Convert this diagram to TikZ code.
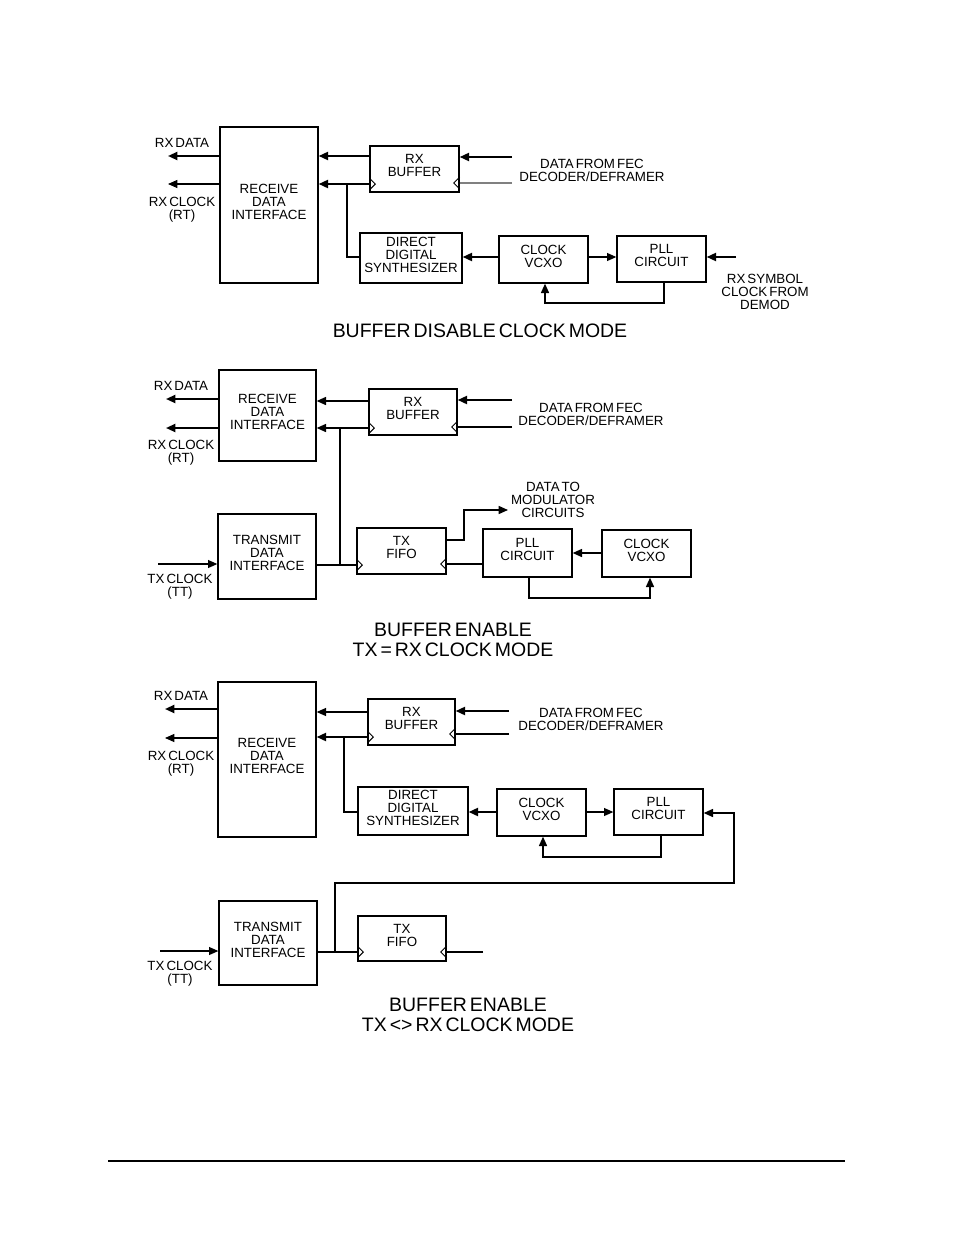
\documentclass[tikz,border=0pt]{standalone}
\usepackage{fontspec}
\setmainfont{Liberation Sans}[WordSpace=0.55]
\usetikzlibrary{fit,arrows.meta}
\newcommand\lblfont{\fontsize{10}{9.75}\selectfont}
\newcommand\ttlfont{\fontsize{14.6}{14.8}\selectfont}
\begin{document}
\begin{tikzpicture}[x=0.75pt,y=-0.75pt,
  box/.style={draw, line width=1pt, inner sep=0pt},
  bt/.style={align=center, font=\lblfont, inner sep=0pt, yshift=2.5pt},
  lbl/.style={align=center, font=\lblfont, inner sep=0pt},
  ttl/.style={align=center, font=\ttlfont, inner sep=0pt},
  thk/.style={line width=1.5pt},
  med/.style={line width=1.1pt},
  thn/.style={line width=0.8pt},
  arr/.style={-{Triangle[length=7pt,width=6pt]}},
  ck/.style={line width=0.7pt}]
\useasboundingbox (0,0) rectangle (954,1235);

% ================= TOP: BUFFER DISABLE =================
\node[box, fit={(220,127) (318,283)}, label={[bt]center:{RECEIVE\\DATA\\INTERFACE}}] (rdiA) {};
\node[box, fit={(370,146) (459,192)}, label={[bt]center:{RX\\BUFFER}}] (rxbA) {};
\node[box, fit={(360,233) (462,283)}, label={[bt]center:{DIRECT\\DIGITAL\\SYNTHESIZER}}] (ddsA) {};
\node[box, fit={(499,236) (588,283)}, label={[bt]center:{CLOCK\\VCXO}}] (vcxoA) {};
\node[box, fit={(617,236) (706,282)}, label={[bt]center:{PLL\\CIRCUIT}}] (pllA) {};

\node[lbl] (rxdA) at (182,143) {RX DATA};
\node[lbl] (rxcA) at (182,210) {RX CLOCK\\(RT)};
\node[lbl] (fecA) at (592,170) {DATA FROM FEC\\DECODER/DEFRAMER};
\node[lbl] (symA) at (765,292) {RX SYMBOL\\CLOCK FROM\\DEMOD};
\node[ttl] (tA) at (480,331) {BUFFER DISABLE CLOCK MODE};

\coordinate (rxdAe) at (168,156);
\coordinate (rxcAe) at (168,184);
\coordinate (fecAd) at (512,157);
\coordinate (fecAc) at (512,183);
\coordinate (jA) at (347,184);
\coordinate (symAs) at (736,257);

\draw[thk,arr] (rdiA.west |- rxdAe) -- (rxdAe);
\draw[thn,arr] (rdiA.west |- rxcAe) -- (rxcAe);
\draw[thk,arr] (rxbA.west |- 0,156) -- (rdiA.east |- 0,156);
\draw[thk,arr] (rxbA.west |- 0,184) -- (rdiA.east |- 0,184);
\draw[med] (jA) |- (ddsA.west |- 0,257);
\draw[thk,arr] (fecAd) -- (rxbA.east |- fecAd);
\draw[thn,gray] (fecAc) -- (rxbA.east |- fecAc);
\draw[ck] (rxbA.west |- 0,184) ++(0,-6) -- ++(6,6) -- ++(-6,6);
\draw[ck] (rxbA.east |- 0,183) ++(0,-6) -- ++(-6,6) -- ++(6,6);
\draw[thk,arr] (vcxoA.west |- 0,257) -- (ddsA.east |- 0,257);
\draw[thn,arr] (vcxoA.east |- 0,257) -- (pllA.west |- 0,257);
\draw[med,arr] (pllA.south -| 664,0) |- (545,303) -- (vcxoA.south -| 545,0);
\draw[thk,arr] (symAs) -- (pllA.east |- symAs);

% ================= MIDDLE: TX = RX =================
\node[box, fit={(219,370) (316,461)}, label={[bt]center:{RECEIVE\\DATA\\INTERFACE}}] (rdiB) {};
\node[box, fit={(369,389) (457,435)}, label={[bt]center:{RX\\BUFFER}}] (rxbB) {};
\node[box, fit={(218,514) (316,599)}, label={[bt]center:{TRANSMIT\\DATA\\INTERFACE}}] (tdiB) {};
\node[box, fit={(357,528) (446,574)}, label={[bt]center:{TX\\FIFO}}] (fifoB) {};
\node[box, fit={(483,529) (572,577)}, label={[bt]center:{PLL\\CIRCUIT}}] (pllB) {};
\node[box, fit={(602,530) (691,577)}, label={[bt]center:{CLOCK\\VCXO}}] (vcxoB) {};

\node[lbl] (rxdB) at (181,386) {RX DATA};
\node[lbl] (rxcB) at (181,453) {RX CLOCK\\(RT)};
\node[lbl] (fecB) at (591,414) {DATA FROM FEC\\DECODER/DEFRAMER};
\node[lbl] (txcB) at (180,587) {TX CLOCK\\(TT)};
\node[lbl] (modB) at (553,500) {DATA TO\\MODULATOR\\CIRCUITS};
\node[ttl] (tB) at (453,640) {BUFFER ENABLE\\TX = RX CLOCK MODE};

\coordinate (rxdBe) at (166,399);
\coordinate (rxcBe) at (166,428);
\coordinate (fecBd) at (512,400);
\coordinate (fecBc) at (512,427);
\coordinate (jB) at (340,428);
\coordinate (jB2) at (340,565);
\coordinate (txcBs) at (158,564);
\coordinate (modBe) at (508,510);

\draw[thk,arr] (rdiB.west |- rxdBe) -- (rxdBe);
\draw[thk,arr] (rdiB.west |- rxcBe) -- (rxcBe);
\draw[med,arr] (rxbB.west |- 0,401) -- (rdiB.east |- 0,401);
\draw[med,arr] (rxbB.west |- 0,428) -- (rdiB.east |- 0,428);
\draw[med] (jB) -- (jB2);
\draw[thk,arr] (fecBd) -- (rxbB.east |- fecBd);
\draw[med] (fecBc) -- (rxbB.east |- fecBc);
\draw[ck] (rxbB.west |- 0,428) ++(0,-6) -- ++(6,6) -- ++(-6,6);
\draw[ck] (rxbB.east |- 0,427) ++(0,-6) -- ++(-6,6) -- ++(6,6);
\draw[thn,arr] (txcBs) -- (tdiB.west |- txcBs);
\draw[thk] (tdiB.east |- jB2) -- (jB2);
\draw[med] (jB2) -- (fifoB.west |- jB2);
\draw[ck] (fifoB.west |- 0,565) ++(0,-6) -- ++(6,6) -- ++(-6,6);
\draw[ck] (fifoB.east |- 0,564) ++(0,-6) -- ++(-6,6) -- ++(6,6);
\draw[med,arr] (fifoB.east |- 0,540) -| (464,510) -- (modBe);
\draw[med] (pllB.west |- 0,564) -- (fifoB.east |- 0,564);
\draw[med,arr] (vcxoB.west |- 0,553) -- (pllB.east |- 0,553);
\draw[med,arr] (pllB.south -| 529,0) |- (650,598) -- (vcxoB.south -| 650,0);

% ================= BOTTOM: TX <> RX =================
\node[box, fit={(218,682) (316,837)}, label={[bt]center:{RECEIVE\\DATA\\INTERFACE}}] (rdiC) {};
\node[box, fit={(368,699) (455,745)}, label={[bt]center:{RX\\BUFFER}}] (rxbC) {};
\node[box, fit={(358,787) (468,835)}, label={[bt]center:{DIRECT\\DIGITAL\\SYNTHESIZER}}] (ddsC) {};
\node[box, fit={(497,789) (586,836)}, label={[bt]center:{CLOCK\\VCXO}}] (vcxoC) {};
\node[box, fit={(614,789) (703,835)}, label={[bt]center:{PLL\\CIRCUIT}}] (pllC) {};
\node[box, fit={(219,901) (317,985)}, label={[bt]center:{TRANSMIT\\DATA\\INTERFACE}}] (tdiC) {};
\node[box, fit={(358,916) (446,961)}, label={[bt]center:{TX\\FIFO}}] (fifoC) {};

\node[lbl] (rxdC) at (181,696) {RX DATA};
\node[lbl] (rxcC) at (181,764) {RX CLOCK\\(RT)};
\node[lbl] (fecC) at (591,719) {DATA FROM FEC\\DECODER/DEFRAMER};
\node[lbl] (txcC) at (180,974) {TX CLOCK\\(TT)};
\node[ttl] (tC) at (468,1015) {BUFFER ENABLE\\TX <> RX CLOCK MODE};

\coordinate (rxdCe) at (165,709);
\coordinate (rxcCe) at (165,738);
\coordinate (fecCd) at (509,711);
\coordinate (fecCc) at (509,734);
\coordinate (jC) at (344,737);
\coordinate (jC2) at (335,952);
\coordinate (lpC) at (734,883);
\coordinate (txcCs) at (160,951);
\coordinate (fifoCs) at (483,952);

\draw[thk,arr] (rdiC.west |- rxdCe) -- (rxdCe);
\draw[thn,arr] (rdiC.west |- rxcCe) -- (rxcCe);
\draw[thn,arr] (rxbC.west |- 0,712) -- (rdiC.east |- 0,712);
\draw[thk,arr] (rxbC.west |- 0,737) -- (rdiC.east |- 0,737);
\draw[med] (jC) |- (ddsC.west |- 0,812);
\draw[thk,arr] (fecCd) -- (rxbC.east |- fecCd);
\draw[thn] (fecCc) -- (rxbC.east |- fecCc);
\draw[ck] (rxbC.west |- 0,737) ++(0,-6) -- ++(6,6) -- ++(-6,6);
\draw[ck] (rxbC.east |- 0,734) ++(0,-6) -- ++(-6,6) -- ++(6,6);
\draw[thk,arr] (vcxoC.west |- 0,812) -- (ddsC.east |- 0,812);
\draw[thn,arr] (vcxoC.east |- 0,812) -- (pllC.west |- 0,812);
\draw[med,arr] (pllC.south -| 661,0) |- (543,857) -- (vcxoC.south -| 543,0);
\draw[med,arr] (jC2) |- (lpC) |- (pllC.east |- 0,813);
\draw[thn,arr] (txcCs) -- (tdiC.west |- txcCs);
\draw[thn] (tdiC.east |- jC2) -- (fifoC.west |- jC2);
\draw[ck] (fifoC.west |- 0,952) ++(0,-6) -- ++(6,6) -- ++(-6,6);
\draw[ck] (fifoC.east |- 0,952) ++(0,-6) -- ++(-6,6) -- ++(6,6);
\draw[med] (fifoCs) -- (fifoC.east |- fifoCs);

% footer rule
\coordinate (fl) at (108,1161);
\coordinate (fr) at (845,1161);
\draw[line width=1pt] (fl) -- (fr);
\end{tikzpicture}
\end{document}
